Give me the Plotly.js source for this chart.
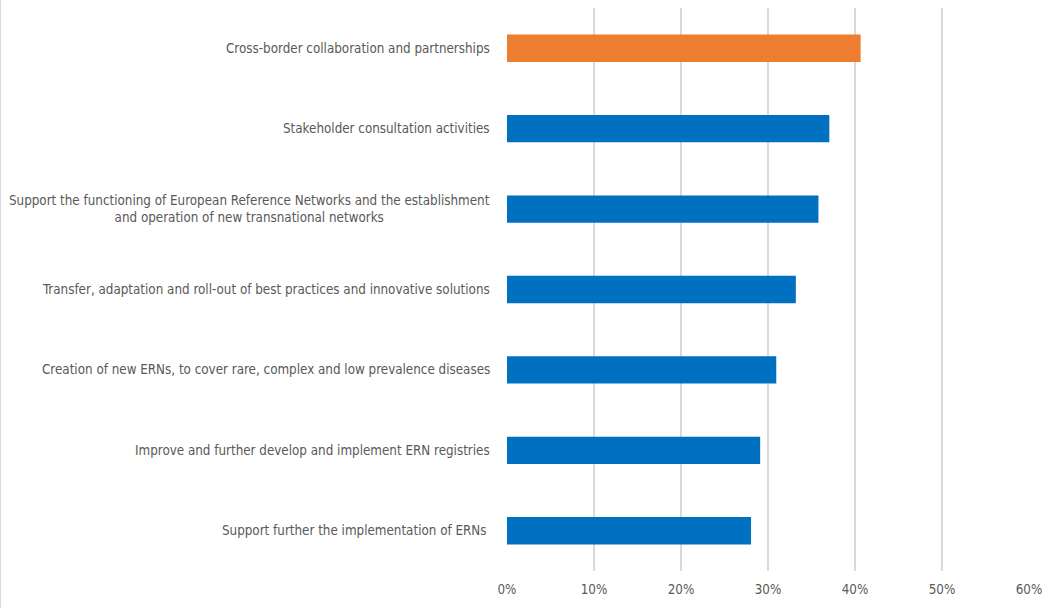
<!DOCTYPE html>
<html>
<head>
<meta charset="utf-8">
<script src="https://cdn.plot.ly/plotly-3.0.1.min.js"></script>
<style>
html,body{margin:0;padding:0;background:#fff;}
#chart{width:1054px;height:608px;border-left:1px solid #d9d9d9;}
</style>
</head>
<body>
<div id="chart"></div>
<script>
var categories = [
  "Support further the implementation of ERNs ",
  "Improve and further develop and implement ERN registries",
  "Creation of new ERNs, to cover rare, complex and low prevalence diseases",
  "Transfer, adaptation and roll-out of best practices and innovative solutions",
  "Support the functioning of European Reference Networks and the establishment<br>and operation of new transnational networks",
  "Stakeholder consultation activities",
  "Cross-border collaboration and partnerships"
];
var values = [0.2805, 0.291, 0.3095, 0.332, 0.358, 0.3705, 0.4065];
var barColors = ["#0070C0","#0070C0","#0070C0","#0070C0","#0070C0","#0070C0","#ED7D31"];
var tickVals = [0, 0.1, 0.2, 0.3, 0.4, 0.5, 0.6];
var tickText = ["0%","10%","20%","30%","40%","50%","60%"];

var labelFont = {family: "DejaVu Sans Condensed, Liberation Sans Narrow, Roboto, sans-serif", size: 13.3, color: "#595959"};

var annotations = categories.map(function(c){
  return {
    xref: "paper", yref: "y", x: 0, y: c, xanchor: "right", yanchor: "middle",
    xshift: -15, text: c, showarrow: false, align: "center", font: labelFont
  };
});

var data = [{
  type: "bar",
  orientation: "h",
  x: values,
  y: categories,
  marker: {color: barColors},
  hoverinfo: "none"
}];

var layout = {
  width: 1054, height: 608,
  margin: {l: 506, r: 26, t: 8, b: 37, pad: 0},
  paper_bgcolor: "#fff", plot_bgcolor: "#fff",
  showlegend: false,
  bargap: 0.66,
  xaxis: {
    range: [0, 0.6], tickvals: tickVals, ticktext: tickText,
    showgrid: true, gridcolor: "#d9d9d9", gridwidth: 2,
    zeroline: false, showline: false, ticks: "",
    ticklabelstandoff: 9,
    tickfont: labelFont, fixedrange: true
  },
  yaxis: {
    type: "category", categoryorder: "array", categoryarray: categories,
    showticklabels: false, showgrid: false, zeroline: false, showline: false,
    ticks: "", fixedrange: true
  },
  annotations: annotations
};

Plotly.newPlot("chart", data, layout, {displayModeBar: false, staticPlot: true});
</script>
</body>
</html>
